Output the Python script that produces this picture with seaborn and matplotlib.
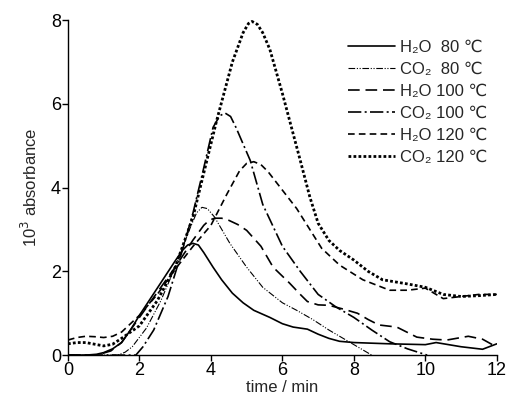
import matplotlib
matplotlib.use("Agg")
import matplotlib.pyplot as plt
import seaborn as sns
import pandas as pd

sns.set_theme(style="ticks")
plt.rcParams['font.family'] = ['Liberation Sans', 'DejaVu Sans']

# Series data (time / min, 10^3 absorbance)
h2o80_t = [0, 0.5, 0.8, 1.0, 1.25, 1.5, 1.75, 2.0, 2.5, 3.0, 3.2, 3.35, 3.5, 3.65, 3.8, 4.06, 4.3, 4.6, 4.9, 5.2, 5.65, 6.0, 6.3, 6.7, 7.0, 7.3, 7.6, 8.0, 9.0, 10.0, 10.3, 11.0, 11.6, 12.0]
h2o80_y = [0, 0, 0.02, 0.06, 0.15, 0.3, 0.6, 0.95, 1.6, 2.25, 2.5, 2.63, 2.67, 2.63, 2.45, 2.1, 1.8, 1.48, 1.25, 1.07, 0.9, 0.75, 0.67, 0.62, 0.5, 0.4, 0.33, 0.3, 0.27, 0.25, 0.3, 0.2, 0.14, 0.27]

co280_t = [0, 1.4, 1.6, 1.8, 2.2, 2.6, 3.0, 3.4, 3.6, 3.75, 3.9, 4.1, 4.53, 5.0, 5.45, 6.0, 6.4, 6.85, 7.3, 7.9, 8.5]
co280_y = [0, 0, 0.07, 0.2, 0.65, 1.3, 2.1, 3.0, 3.4, 3.53, 3.5, 3.3, 2.67, 2.1, 1.62, 1.25, 1.07, 0.85, 0.6, 0.3, 0.0]

h2o100_t = [0, 0.8, 1.2, 1.5, 2.0, 2.5, 3.0, 3.5, 3.8, 3.95, 4.1, 4.3, 4.5, 4.75, 5.0, 5.4, 5.74, 6.2, 6.5, 6.7, 7.0, 7.3, 7.7, 8.1, 8.4, 8.7, 9.2, 9.76, 10.2, 10.6, 11.2, 11.6, 12.0]
h2o100_y = [0, 0, 0.1, 0.3, 0.9, 1.5, 2.1, 2.75, 3.1, 3.22, 3.27, 3.27, 3.22, 3.12, 2.98, 2.6, 2.1, 1.72, 1.45, 1.28, 1.2, 1.19, 1.1, 1.0, 0.85, 0.72, 0.67, 0.43, 0.38, 0.36, 0.45, 0.38, 0.19]

co2100_t = [0, 1.9, 2.1, 2.4, 2.8, 3.2, 3.5, 3.78, 4.06, 4.25, 4.4, 4.55, 4.7, 5.1, 5.45, 6.0, 6.5, 7.0, 7.5, 8.0, 8.5, 9.0, 9.5, 10.05]
co2100_y = [0, 0, 0.2, 0.6, 1.4, 2.5, 3.4, 4.4, 5.44, 5.72, 5.78, 5.7, 5.44, 4.65, 3.6, 2.6, 2.0, 1.45, 1.15, 0.9, 0.6, 0.32, 0.15, 0.0]

h2o120_t = [0, 0.25, 0.5, 0.75, 1.0, 1.25, 1.5, 2.0, 2.5, 3.0, 3.5, 4.0, 4.45, 4.8, 5.0, 5.2, 5.4, 5.6, 5.9, 6.4, 7.1, 7.6, 8.25, 9.0, 9.5, 10.0, 10.5, 11.0, 11.5, 12.0]
h2o120_y = [0.36, 0.42, 0.45, 0.44, 0.42, 0.45, 0.55, 0.95, 1.45, 2.05, 2.6, 3.1, 3.85, 4.4, 4.58, 4.62, 4.55, 4.38, 4.05, 3.5, 2.55, 2.15, 1.8, 1.55, 1.55, 1.6, 1.35, 1.4, 1.45, 1.45]

co2120_t = [0, 0.25, 0.5, 0.75, 1.0, 1.25, 1.5, 2.0, 2.5, 3.0, 3.5, 3.7, 4.16, 4.6, 4.9, 5.05, 5.15, 5.3, 5.45, 5.65, 6.0, 6.5, 6.77, 7.0, 7.3, 7.6, 8.0, 8.4, 8.8, 9.5, 10.0, 10.5, 11.0, 11.5, 12.0]
co2120_y = [0.27, 0.3, 0.3, 0.26, 0.22, 0.26, 0.4, 0.7, 1.3, 2.1, 3.3, 4.0, 5.6, 7.0, 7.7, 7.92, 7.97, 7.9, 7.7, 7.3, 6.25, 4.65, 3.77, 3.15, 2.74, 2.5, 2.27, 2.0, 1.8, 1.7, 1.62, 1.45, 1.4, 1.42, 1.45]

labels = ['H\u2082O  80 \u2103', 'CO\u2082  80 \u2103', 'H\u2082O 100 \u2103',
          'CO\u2082 100 \u2103', 'H\u2082O 120 \u2103', 'CO\u2082 120 \u2103']
series = [(h2o80_t, h2o80_y), (co280_t, co280_y), (h2o100_t, h2o100_y),
          (co2100_t, co2100_y), (h2o120_t, h2o120_y), (co2120_t, co2120_y)]

styles = [
    dict(linestyle='-', linewidth=1.2),
    dict(linestyle=(0, (6, 1.5, 1, 1.5, 1, 1.5)), linewidth=0.8),
    dict(linestyle=(0, (7, 3.5)), linewidth=1.2),
    dict(linestyle=(0, (8, 2, 1.2, 2)), linewidth=1.2),
    dict(linestyle=(0, (4, 2.5)), linewidth=1.2),
    dict(linestyle=(0, (1, 0.8)), linewidth=2.0),
]

fig = plt.figure(figsize=(5.07, 4.04), dpi=100)
ax = fig.add_axes([0.134, 0.121, 0.846, 0.829])

for (t, y), lab, st in zip(series, labels, styles):
    df = pd.DataFrame({'t': t, 'y': y})
    sns.lineplot(data=df, x='t', y='y', ax=ax, color='black', label=lab,
                 estimator=None, sort=False, **st)

ax.set_xlim(0, 12)
ax.set_ylim(0, 8)
ax.set_xticks([0, 2, 4, 6, 8, 10, 12])
ax.set_yticks([0, 2, 4, 6, 8])
ax.tick_params(direction='out', length=4, width=1, labelsize=13, colors='black', pad=1)
for s in ['top', 'right']:
    ax.spines[s].set_visible(False)
for s in ['left', 'bottom']:
    ax.spines[s].set_linewidth(1.0)
    ax.spines[s].set_color('black')
ax.set_xlabel('time / min', fontsize=12, labelpad=1)
ax.set_ylabel('10$^3$ absorbance', fontsize=12, labelpad=8)

leg = ax.legend(loc='upper right', bbox_to_anchor=(1.0, 0.97), frameon=False,
                fontsize=12, handlelength=2.8, handletextpad=0.3,
                labelspacing=0.42, borderaxespad=0.2)

fig.savefig('out.png', dpi=100)
